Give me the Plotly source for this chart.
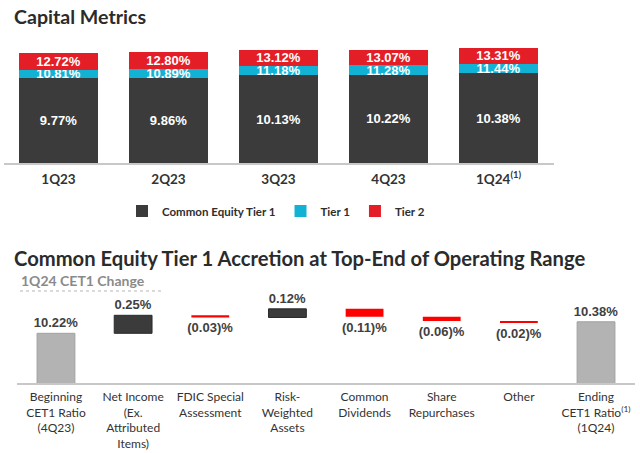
import plotly.graph_objects as go

# ---- Data: Capital Metrics ----
quarters = ["1Q23", "2Q23", "3Q23", "4Q23", "1Q24<sup>(1)</sup>"]
cet1 = [9.77, 9.86, 10.13, 10.22, 10.38]
tier1 = [10.81, 10.89, 11.18, 11.28, 11.44]
tier2 = [12.72, 12.80, 13.12, 13.07, 13.31]

# ---- Data: CET1 change waterfall ----
wf_labels = [
    "Beginning<br>CET1 Ratio<br>(4Q23)",
    "Net Income<br>(Ex.<br>Attributed<br>Items)",
    "FDIC Special<br>Assessment",
    "Risk-<br>Weighted<br>Assets",
    "Common<br>Dividends",
    "Share<br>Repurchases",
    "Other",
    "Ending<br>CET1 Ratio<sup>(1)</sup><br>(1Q24)",
]
wf_values = [10.22, 0.25, -0.03, 0.12, -0.11, -0.06, -0.02, 10.38]
wf_measure = ["absolute", "relative", "relative", "relative",
              "relative", "relative", "relative", "absolute"]

W, H = 640, 453
def px(x):
    return x / W
def py(y):
    return 1 - y / H

DARK = "#3b3b3b"
CYAN = "#12b2d5"
RED = "#e41e26"
GREY = "#b3b3b3"
TXT = "#2b2b2b"
LBLFONT = "Liberation Sans"
FONT = "Lato"

fig = go.Figure()

seg_cet1 = cet1
seg_t1 = [b - a for a, b in zip(cet1, tier1)]
seg_t2 = [b - a for a, b in zip(tier1, tier2)]

for name, seg, tot, col in [
    ("Common Equity Tier 1", seg_cet1, cet1, DARK),
    ("Tier 1", seg_t1, tier1, CYAN),
    ("Tier 2", seg_t2, tier2, RED),
]:
    fig.add_trace(go.Bar(
        x=quarters, y=seg, name=name,
        marker=dict(color=col, line=dict(width=0)),
        width=0.718,
        text=[f"{v:.2f}%" for v in tot],
        textposition="inside", insidetextanchor="middle",
        constraintext="none",
        textfont=dict(family=LBLFONT, size=13, color="white", weight="bold"),
        hoverinfo="skip",
        xaxis="x", yaxis="y",
    ))

def fmt(v):
    return f"{v:.2f}%" if v >= 0 else f"({abs(v):.2f})%"

fig.add_trace(go.Waterfall(
    x=wf_labels, y=wf_values, measure=wf_measure,
    width=0.49,
    increasing=dict(marker=dict(color=DARK, line=dict(color="#2a2a2a", width=1))),
    decreasing=dict(marker=dict(color="#ff0000", line=dict(width=0))),
    totals=dict(marker=dict(color=GREY, line=dict(color="#a0a0a0", width=1))),
    connector=dict(visible=False),
    text=[fmt(v) for v in wf_values],
    textposition="outside", constraintext="none", cliponaxis=False,
    textfont=dict(family=LBLFONT, size=13, color="#404040", weight="bold"),
    showlegend=False, hoverinfo="skip",
    xaxis="x2", yaxis="y2",
))

fig.update_layout(
    width=W, height=H,
    margin=dict(l=0, r=0, t=0, b=0),
    paper_bgcolor="white", plot_bgcolor="rgba(0,0,0,0)",
    barmode="stack",
    bargap=0.28,
    font=dict(family=FONT, color=TXT),
    xaxis=dict(
        domain=[px(3.5), px(553.5)], range=[-0.5, 4.5],
        showline=True, linecolor="#c8c8c8", linewidth=1.5,
        showgrid=False, zeroline=False, ticks="",
        tickfont=dict(family=FONT, size=13.5, color="#333333", weight="bold"),
        ticklabelstandoff=3,
        anchor="y", fixedrange=True,
    ),
    yaxis=dict(
        domain=[py(163), py(40)], range=[0, 14.22], visible=False,
        anchor="x", fixedrange=True,
    ),
    xaxis2=dict(
        domain=[px(17.4), px(634.6)], range=[-0.5, 7.5],
        showline=True, linecolor="#c8c8c8", linewidth=1.5,
        showgrid=False, zeroline=False, ticks="",
        tickfont=dict(family=FONT, size=12, color="#333333"),
        ticklabelstandoff=2,
        anchor="y2", fixedrange=True,
    ),
    yaxis2=dict(
        domain=[py(383), py(295)], range=[9.53, 10.752], visible=False,
        anchor="x2", fixedrange=True,
    ),
    legend=dict(
        orientation="h", x=px(276), y=py(211), xanchor="center", yanchor="middle",
        font=dict(family=FONT, size=11.5, color="#2e2e2e", weight="bold"),
        bgcolor="rgba(0,0,0,0)", itemwidth=30, traceorder="normal",
    ),
    showlegend=True,
)

fig.add_annotation(text="Capital Metrics", xref="paper", yref="paper",
                   x=px(12), y=py(17), xanchor="left", yanchor="middle",
                   showarrow=False,
                   font=dict(family=FONT, size=19.6, color=TXT, weight="bold"))
fig.add_annotation(text="Common Equity Tier 1 Accretion at Top-End of Operating Range",
                   xref="paper", yref="paper",
                   x=px(12), y=py(258), xanchor="left", yanchor="middle",
                   showarrow=False,
                   font=dict(family=FONT, size=20.2, color=TXT, weight="bold"))
fig.add_annotation(text="1Q24 CET1 Change", xref="paper", yref="paper",
                   x=px(19), y=py(280), xanchor="left", yanchor="middle",
                   showarrow=False,
                   font=dict(family=FONT, size=14, color="#8a8a8a", weight="bold"))
fig.add_shape(type="line", xref="paper", yref="paper",
              x0=px(20), x1=px(163), y0=py(291), y1=py(291),
              line=dict(color="#b5b5b5", width=1, dash="dot"))

fig.write_html("out.html", config={"displayModeBar": False},
               post_script="document.body.style.margin='0';document.body.style.padding='0';")
